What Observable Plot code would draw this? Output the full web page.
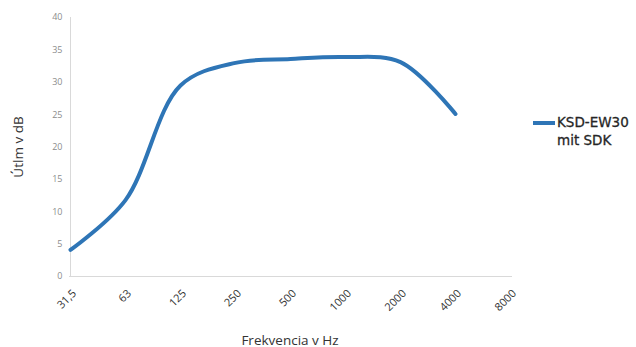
<!DOCTYPE html>
<html><head><meta charset="utf-8">
<script src="https://cdn.jsdelivr.net/npm/d3@7"></script>
<script src="https://cdn.jsdelivr.net/npm/@observablehq/plot@0.6"></script>
<style>
body{margin:0;background:#fff;}
#wrap{position:relative;width:636px;height:347px;}
#legend{position:absolute;left:533px;top:113px;font-family:"DejaVu Sans",sans-serif;font-size:13.5px;color:#262626;line-height:18px;}
#legend .sw{position:absolute;left:0;top:8px;width:22px;height:4px;background:#2E75B6;}
#legend .tx{position:absolute;left:24px;top:0;white-space:nowrap;-webkit-text-stroke:0.3px #262626;}
</style></head>
<body><div id="wrap"><div id="legend"><div class="sw"></div><div class="tx"></div></div></div>
<script>
const categories = ["31,5","63","125","250","500","1000","2000","4000","8000"];
const seriesFreq = ["31,5","63","125","250","500","1000","2000","4000"];
const seriesValues = [4.1, 11.8, 29.5, 33.0, 33.6, 33.9, 33.1, 25.1];
const yTicks = [0,5,10,15,20,25,30,35,40];
const seriesName = ["KSD-EW30", "mit SDK"];

const data = seriesFreq.map((f,i)=>({f, v: seriesValues[i]}));

const chart = Plot.plot({
  width: 636, height: 347,
  marginLeft: 69, marginRight: 126, marginTop: 17, marginBottom: 71,
  style: {fontFamily: "'Open Sans', sans-serif", background: "transparent"},
  x: {type: "point", domain: categories, padding: 0},
  y: {domain: [0, 40]},
  marks: [
    Plot.ruleY([0], {stroke: "#d9d9d9", strokeWidth: 1, insetRight: -2}),
    Plot.ruleX([categories[0]], {stroke: "#d9d9d9", strokeWidth: 1}),
    Plot.axisY({ticks: yTicks, tickSize: 0, tickPadding: 7, fontSize: 9, color: "#8c8c8c",
      label: "Útlm v dB", labelAnchor: "center", labelOffset: 56}),
    Plot.axisX({tickSize: 0, tickPadding: 15, tickRotate: -45, fontSize: 11, color: "#333",
      label: "Frekvencia v Hz", labelAnchor: "center", labelOffset: 68, dx: 4}),
    Plot.line(data, {x: "f", y: "v", stroke: "#2E75B6", strokeWidth: 4, curve: "catmull-rom"})
  ]
});
document.getElementById("wrap").prepend(chart);
document.querySelector("#legend .tx").innerHTML = seriesName.join("<br>");
chart.querySelectorAll("g[aria-label='y-axis label'] text, g[aria-label='x-axis label'] text").forEach(t=>{
  t.textContent = t.textContent.replace(/\s*[↑→←↓]\s*/g, "").trim();
  t.setAttribute("fill","#333"); t.style.fontSize="13.5px";
});
</script></body></html>
